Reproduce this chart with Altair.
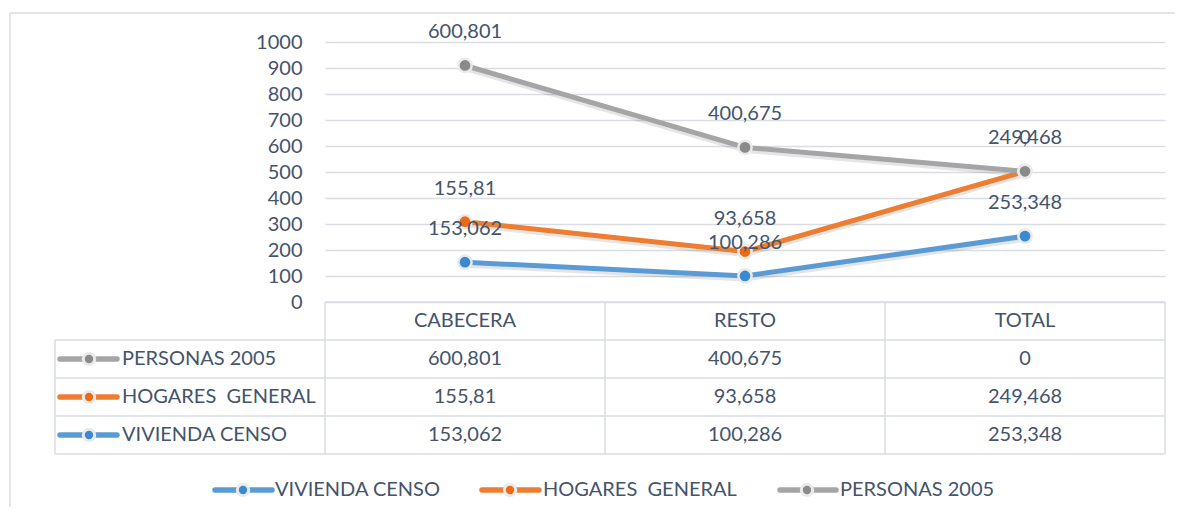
import altair as alt
import pandas as pd

# ---------------- data ----------------
categories = ["CABECERA", "RESTO", "TOTAL"]
series = ["VIVIENDA CENSO", "HOGARES  GENERAL", "PERSONAS 2005"]
vivienda = [153.062, 100.286, 253.348]
hogares = [155.81, 93.658, 249.468]
personas = [600.801, 400.675, 0]
y_ticks = [0, 100, 200, 300, 400, 500, 600, 700, 800, 900, 1000]

# ---------------- styles ----------------
line_colors = ["#5B9BD5", "#ED7D31", "#A5A5A5"]
marker_fills = ["#3A89D2", "#EC6A12", "#8A8A8A"]
MARKER_STROKE = "#EAEAEA"
TEXT = "#44546A"
GRID = "#D9DDE3"
FONT = "Lato"
FS = 20

# ---------------- layout (page pixels) ----------------
PLOT_LEFT, PLOT_TOP = 325, 42
COL_W = 280
PLOT_W, PLOT_H = 840, 260
ROW_H = 38


def px(page_x):
    return (page_x - PLOT_LEFT) / COL_W


LX0 = px(55)                                  # table left edge
ICON_X = (px(60), px(117), px(89), px(122))   # table label column: line from/to, marker, text
LEG_Y = 4 + (490 - (PLOT_TOP + PLOT_H + 4 * ROW_H)) / ROW_H
LEG_ICON = {  # line from, line to, marker, text
    "VIVIENDA CENSO": (px(215), px(272), px(243), px(275)),
    "HOGARES  GENERAL": (px(482), px(539), px(510), px(543)),
    "PERSONAS 2005": (px(780), px(836), px(807), px(840)),
}

values_by_series = dict(zip(series, [vivienda, hogares, personas]))
rows = []
for si, s in enumerate(series):
    for ci, c in enumerate(categories):
        rows.append({"series": s, "cat": c, "value": values_by_series[s][ci],
                     "order": si, "xc": ci + 0.5, "row": 3 - si + 0.5})
df = pd.DataFrame(rows)

XS = alt.Scale(domain=[0, 3], nice=False, zero=False)
TYS = alt.Scale(domain=[0, 4], range=[PLOT_H, PLOT_H + 4 * ROW_H], nice=False, zero=False)
COLOR = alt.Color("series:N", scale=alt.Scale(domain=series, range=line_colors), legend=None)
FILL = alt.Fill("series:N", scale=alt.Scale(domain=series, range=marker_fills), legend=None)

# ---------------- line chart ----------------
base = (
    alt.Chart(df)
    .transform_stack(stack="value", groupby=["cat"], as_=["y0", "y1"],
                     sort=[alt.SortField("order")])
    .transform_calculate(label="replace(toString(datum.value), '.', ',')")
)
X = alt.X("xc:Q", scale=XS, axis=None)
Y = alt.Y(
    "y1:Q",
    scale=alt.Scale(domain=[0, 1000], nice=False),
    axis=alt.Axis(values=y_ticks, format="d", title=None, ticks=False, domain=False,
                  labelPadding=23, labelFont=FONT, labelFontSize=FS,
                  labelColor=TEXT, grid=True, gridColor=GRID, gridWidth=1.5),
)

shadow = base.mark_line(strokeWidth=5, color="#000000", opacity=0.10, yOffset=3,
                        strokeJoin="round").encode(x=X, y=Y, detail="series:N")
lines = base.mark_line(strokeWidth=5, strokeJoin="round", strokeCap="round").encode(
    x=X, y=Y, color=COLOR)
points = base.mark_point(filled=True, size=175, stroke=MARKER_STROKE, strokeWidth=2.5,
                         opacity=1).encode(x=X, y=Y, fill=FILL)
labels = base.mark_text(dy=-33, font=FONT, fontSize=FS, color=TEXT).encode(
    x=X, y=Y, text="label:N")

plot = alt.layer(shadow, lines, points, labels)

# ---------------- data table ----------------
rule_rows = []
for r in range(5):
    rule_rows.append({"x": 0 if r == 0 else LX0, "x2": 3, "y": r, "y2": r})
for c in [LX0, 0, 1, 2, 3]:
    rule_rows.append({"x": c, "x2": c, "y": 1 if c == LX0 else 0, "y2": 4})
rules_df = pd.DataFrame(rule_rows)

table_rules = alt.Chart(rules_df).mark_rule(color=GRID, strokeWidth=1.5).encode(
    x=alt.X("x:Q", scale=XS, axis=None), x2="x2:Q",
    y=alt.Y("y:Q", scale=TYS, axis=None), y2="y2:Q")

head_df = pd.DataFrame({"cat": categories,
                        "xc": [i + 0.5 for i in range(len(categories))],
                        "row": [0.5] * len(categories)})
header = alt.Chart(head_df).mark_text(font=FONT, fontSize=FS, color=TEXT).encode(
    x=alt.X("xc:Q", scale=XS, axis=None),
    y=alt.Y("row:Q", scale=TYS, axis=None), text="cat:N")

cells = (
    alt.Chart(df)
    .transform_calculate(label="replace(toString(datum.value), '.', ',')")
    .mark_text(font=FONT, fontSize=FS, color=TEXT)
    .encode(x=alt.X("xc:Q", scale=XS, axis=None),
            y=alt.Y("row:Q", scale=TYS, axis=None), text="label:N")
)

lab_df = pd.DataFrame({"series": series,
                       "row": [3 - i + 0.5 for i in range(len(series))],
                       "x0": [ICON_X[0]] * 3, "x1": [ICON_X[1]] * 3,
                       "xm": [ICON_X[2]] * 3, "xt": [ICON_X[3]] * 3})
leg_df = pd.DataFrame({"series": series,
                       "row": [LEG_Y] * 3,
                       "x0": [LEG_ICON[s][0] for s in series],
                       "x1": [LEG_ICON[s][1] for s in series],
                       "xm": [LEG_ICON[s][2] for s in series],
                       "xt": [LEG_ICON[s][3] for s in series]})
icon_df = pd.concat([lab_df, leg_df], ignore_index=True)

icon_line = alt.Chart(icon_df).mark_rule(strokeWidth=5.5, strokeCap="round").encode(
    x=alt.X("x0:Q", scale=XS, axis=None), x2="x1:Q",
    y=alt.Y("row:Q", scale=TYS, axis=None), color=COLOR)
icon_pt = alt.Chart(icon_df).mark_point(filled=True, size=130, stroke=MARKER_STROKE,
                                        strokeWidth=3, opacity=1).encode(
    x=alt.X("xm:Q", scale=XS, axis=None),
    y=alt.Y("row:Q", scale=TYS, axis=None), fill=FILL)
# keep the double space of the series name visible (SVG collapses plain spaces)
icon_txt = (
    alt.Chart(icon_df)
    .transform_calculate(shown="replace(datum.series, '  ', ' \u00a0')")
    .mark_text(align="left", font=FONT, fontSize=FS, color=TEXT)
    .encode(x=alt.X("xt:Q", scale=XS, axis=None),
            y=alt.Y("row:Q", scale=TYS, axis=None), text="shown:N")
)

table = alt.layer(table_rules, header, cells, icon_line, icon_pt, icon_txt)

# ---------------- outer frame ----------------
frame_df = pd.DataFrame({"k": [0]})
frame_top = alt.Chart(frame_df).mark_rule(color=GRID, strokeWidth=1.5).encode(
    x=alt.value(10 - PLOT_LEFT), x2=alt.value(PLOT_W + 20), y=alt.value(13 - PLOT_TOP))
frame_left = alt.Chart(frame_df).mark_rule(color=GRID, strokeWidth=1.5).encode(
    x=alt.value(10 - PLOT_LEFT), y=alt.value(13 - PLOT_TOP), y2=alt.value(PLOT_H + 240))

chart = (
    alt.layer(frame_top, frame_left, plot, table)
    .resolve_scale(y="independent")
    .properties(
        width=PLOT_W, height=PLOT_H,
        padding={"left": PLOT_LEFT - 8, "top": PLOT_TOP - 8, "right": 10, "bottom": 205},
        autosize=alt.AutoSizeParams(type="none"),
        background="white",
    )
    .configure_view(stroke=None)
)

chart.save("out.html", embed_options={"renderer": "svg", "actions": False})
